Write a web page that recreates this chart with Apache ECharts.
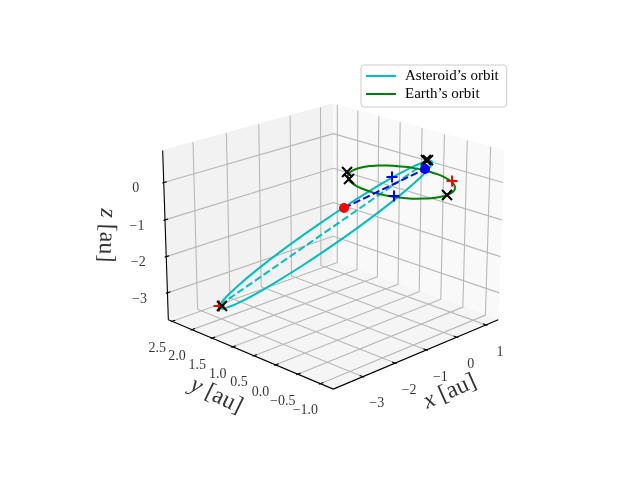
<!DOCTYPE html>
<html>
<head>
<meta charset="utf-8">
<style>html,body{margin:0;background:#fff}#chart{width:640px;height:480px}</style>
<script src="https://cdn.jsdelivr.net/npm/echarts@6/dist/echarts.min.js"></script>
</head>
<body>
<div id="chart"></div>
<script>
// ==============================================================
// data, all in au
// ==============================================================
var xTicks = [-3, -2, -1, 0, 1];
var yTicks = [-1, -0.5, 0, 0.5, 1, 1.5, 2, 2.5];
var zTicks = [-3, -2, -1, 0];
var xLim = [-3.88, 1.43];
var yLim = [-1.28, 2.6];
var zLim = [-3.75, 0.85];

var asteroidName = "Asteroid\u2019s orbit";
var earthName = "Earth\u2019s orbit";

var asteroidOrbit = [
    [0.236, -0.515, 0.597], [0.164, -0.568, 0.610], [0.084, -0.615, 0.614], [-0.002, -0.655, 0.608],
    [-0.095, -0.688, 0.594], [-0.194, -0.716, 0.570], [-0.326, -0.740, 0.528], [-0.465, -0.754, 0.472],
    [-0.763, -0.750, 0.321], [-1.079, -0.705, 0.123], [-1.404, -0.620, -0.117], [-1.890, -0.423, -0.542],
    [-2.349, -0.153, -1.019], [-2.750, 0.172, -1.521], [-3.070, 0.535, -2.016], [-3.227, 0.786, -2.328],
    [-3.333, 1.036, -2.613], [-3.383, 1.279, -2.864], [-3.386, 1.395, -2.973], [-3.374, 1.506, -3.071],
    [-3.355, 1.591, -3.141], [-3.325, 1.672, -3.202], [-3.287, 1.749, -3.254], [-3.239, 1.821, -3.297],
    [-3.182, 1.887, -3.330], [-3.116, 1.948, -3.354], [-3.042, 2.002, -3.368], [-2.959, 2.050, -3.372],
    [-2.868, 2.092, -3.366], [-2.770, 2.127, -3.350], [-2.638, 2.160, -3.316], [-2.495, 2.182, -3.265],
    [-2.185, 2.190, -3.119], [-1.849, 2.150, -2.916], [-1.499, 2.063, -2.662], [-0.973, 1.851, -2.205],
    [-0.482, 1.556, -1.687], [-0.063, 1.200, -1.148], [0.255, 0.812, -0.630], [0.399, 0.549, -0.314],
    [0.484, 0.293, -0.033], [0.510, 0.052, 0.203], [0.500, -0.061, 0.303], [0.475, -0.167, 0.390],
    [0.445, -0.247, 0.450], [0.405, -0.322, 0.500], [0.357, -0.392, 0.542], [0.301, -0.457, 0.574],
    [0.236, -0.515, 0.597]
];
var apsisLine = [[-3.000, 2.025, -3.369], [0.407, -0.317, 0.497]];
var earthOrbit = [
    [0.985, 0, -0.06], [0.970, 0.171, -0.06], [0.926, 0.337, -0.06], [0.853, 0.493, -0.06],
    [0.755, 0.633, -0.06], [0.633, 0.755, -0.06], [0.493, 0.853, -0.06], [0.337, 0.926, -0.06],
    [0.171, 0.970, -0.06], [0, 0.985, -0.06], [-0.171, 0.970, -0.06], [-0.337, 0.926, -0.06],
    [-0.493, 0.853, -0.06], [-0.633, 0.755, -0.06], [-0.755, 0.633, -0.06], [-0.853, 0.493, -0.06],
    [-0.926, 0.337, -0.06], [-0.970, 0.171, -0.06], [-0.985, 0, -0.06], [-0.970, -0.171, -0.06],
    [-0.926, -0.337, -0.06], [-0.853, -0.493, -0.06], [-0.755, -0.633, -0.06], [-0.633, -0.755, -0.06],
    [-0.493, -0.853, -0.06], [-0.337, -0.926, -0.06], [-0.171, -0.970, -0.06], [0, -0.985, -0.06],
    [0.171, -0.970, -0.06], [0.337, -0.926, -0.06], [0.493, -0.853, -0.06], [0.633, -0.755, -0.06],
    [0.755, -0.633, -0.06], [0.853, -0.493, -0.06], [0.926, -0.337, -0.06], [0.970, -0.171, -0.06],
    [0.985, 0, -0.06]
];
var blackCrosses = [[-3.123, 1.873, -3.288], [0.445, -0.247, 0.490], [0.407, -0.317, 0.520],
    [-0.354, 0.976, -0.06], [-0.683, 0.693, -0.06], [0.031, -0.983, -0.06]];
var redPlus = [[-3.037, 2.020, -3.382], [0.839, -0.567, -0.06]];
var bluePlus = [[0.478, 0.525, -0.252], [-0.933, -0.486, -0.009]];
var redDot = [-0.150, 1.191, -1.183];
var blueDot = [1.058, 0.173, -0.06];

// ==============================================================
// view of the 3d box, echarts core has no 3d axes
// ==============================================================
var elev = 20 * Math.PI / 180, azim = -135 * Math.PI / 180, dist = 10;
var box = [1.307, 1.307, 0.992];
var S = 1815, CX = 333.3, CY = 236.5;
var nv = [Math.cos(elev) * Math.cos(azim), Math.cos(elev) * Math.sin(azim), Math.sin(elev)];
var eye = [box[0] / 2 + dist * nv[0], box[1] / 2 + dist * nv[1], box[2] / 2 + dist * nv[2]];
function cross(a, b) { return [a[1]*b[2]-a[2]*b[1], a[2]*b[0]-a[0]*b[2], a[0]*b[1]-a[1]*b[0]]; }
function dot(a, b) { return a[0]*b[0]+a[1]*b[1]+a[2]*b[2]; }
function unit(a) { var l = Math.sqrt(dot(a, a)); return [a[0]/l, a[1]/l, a[2]/l]; }
var uv = unit(cross([0, 0, 1], nv));
var vv = cross(nv, uv);
function proj(p) {
    var d = [
        (p[0]-xLim[0]) / (xLim[1]-xLim[0]) * box[0] - eye[0],
        (p[1]-yLim[0]) / (yLim[1]-yLim[0]) * box[1] - eye[1],
        (p[2]-zLim[0]) / (zLim[1]-zLim[0]) * box[2] - eye[2]
    ];
    var w = -dot(d, nv);
    return [dot(d, uv) / w, dot(d, vv) / w];
}
function line(pts) { return pts.map(proj); }

// ==============================================================
// series
// ==============================================================
var series = [];
var order = 1;
function add3d(pts, color, width, name, type, smooth) {
    series.push({ type: 'line', name: name, data: line(pts), showSymbol: false, symbol: 'none', silent: true, z: order++, smooth: smooth || false,
        lineStyle: { color: color, width: width, type: type || 'solid', cap: 'butt' }, itemStyle: { color: color } });
}
function pane(pts, color) {
    series.push({ type: 'custom', silent: true, z: order++, data: [0], coordinateSystem: 'cartesian2d',
        renderItem: function (params, api) {
            return { type: 'polygon', shape: { points: line(pts).map(function (p) { return api.coord(p); }) }, style: { fill: color, stroke: color, lineWidth: 1 } };
        } });
}
function marks(pts, path, color, size, filled) {
    series.push({ type: 'scatter', data: line(pts), symbol: path, symbolSize: size, silent: true, z: order++,
        itemStyle: filled ? { color: color, opacity: 1 } : { color: 'rgba(0,0,0,0)', borderColor: color, borderWidth: 2, opacity: 1 } });
}
function labels(items, off, rot, size) {
    series.push({ type: 'scatter', symbolSize: 0, silent: true, z: order++,
        data: items.map(function (it) { return { value: proj(it.p), label: { formatter: it.t } }; }),
        label: { show: true, position: 'inside', offset: off, rotate: rot || 0, color: '#000', fontFamily: 'Liberation Serif', fontSize: size,
            rich: { i: { fontStyle: 'italic', fontFamily: 'Liberation Serif', fontSize: size }, r: { fontFamily: 'Liberation Serif', fontSize: size } } } });
}
function fmt(v, d) { return (v < 0 ? '\u2212' : '') + Math.abs(v).toFixed(d); }

var x0 = xLim[0], x1 = xLim[1], y0 = yLim[0], y1 = yLim[1], z0 = zLim[0], z1 = zLim[1];
pane([[x0,y1,z0],[x1,y1,z0],[x1,y1,z1],[x0,y1,z1]], '#f2f2f2');
pane([[x1,y0,z0],[x1,y1,z0],[x1,y1,z1],[x1,y0,z1]], '#f9f9f9');
pane([[x0,y0,z0],[x1,y0,z0],[x1,y1,z0],[x0,y1,z0]], '#f5f5f5');

var gridColor = '#b8b8b8';
xTicks.forEach(function (v) { add3d([[v,y0,z0],[v,y1,z0],[v,y1,z1]], gridColor, 1.1); });
yTicks.forEach(function (v) { add3d([[x0,v,z0],[x1,v,z0],[x1,v,z1]], gridColor, 1.1); });
zTicks.forEach(function (v) { add3d([[x0,y1,v],[x1,y1,v],[x1,y0,v]], gridColor, 1.1); });

add3d([[x0,y0,z0],[x1,y0,z0]], '#000', 1.1);
add3d([[x0,y1,z0],[x0,y0,z0]], '#000', 1.1);
add3d([[x0,y1,z0],[x0,y1,z1]], '#000', 1.1);
var dy = (y1-y0)/12, dx = (x1-x0)/12;
xTicks.forEach(function (v) { add3d([[v,y0+0.2*dy,z0],[v,y0-0.1*dy,z0]], '#000', 1.1); });
yTicks.forEach(function (v) { add3d([[x0+0.2*dx,v,z0],[x0-0.1*dx,v,z0]], '#000', 1.1); });
zTicks.forEach(function (v) { add3d([[x0+0.2*dx,y1,v],[x0-0.1*dx,y1,v]], '#000', 1.1); });

add3d(asteroidOrbit, '#00bfbf', 2, asteroidName, 'solid', 0.3);
add3d(apsisLine, '#00bfbf', 2, 'apsis line', [7.4, 3.2]);
add3d(earthOrbit, '#008000', 2, earthName, 'solid', 0.5);
add3d([redDot, blueDot], '#0000ff', 2, 'link', [7.4, 3.2]);

marks(redPlus, 'path://M0 5H10M5 0V10', '#ff0000', 11);
marks(bluePlus, 'path://M0 5H10M5 0V10', '#0000ff', 11);
marks(blackCrosses, 'path://M0 0L10 10M0 10L10 0', '#000', 10);
marks([redDot], 'circle', '#ff0000', 10, true);
marks([blueDot], 'circle', '#0000ff', 10, true);

labels(xTicks.map(function (v) { return { p: [v, y0, z0], t: fmt(v, 0) }; }), [14, 27], 0, 14);
labels(yTicks.map(function (v) { return { p: [x0, v, z0], t: fmt(v, 1) }; }), [-15, 27], 0, 14);
labels(zTicks.map(function (v) { return { p: [x0, y1, v], t: fmt(v, 0) }; }), [-28, 6], 0, 14);
// label offsets turn with the label, so these are in the rotated frame
labels([{ p: [(x0+x1)/2, y0, z0], t: '{i|x}{r| [au]}' }], [12, 48], 24, 24);
labels([{ p: [x0, (y0+y1)/2, z0], t: '{i|y}{r| [au]}' }], [-9, 52], -26, 24);
labels([{ p: [x0, y1, (z0+z1)/2], t: '{i|z}{r| [au]}' }], [1, 59], -92, 24);

var chart = echarts.init(document.getElementById('chart'));
chart.setOption({
    animation: false,
    grid: { left: CX - 0.18 * S, top: CY - 0.12 * S, width: 0.34 * S, height: 0.24 * S },
    xAxis: { type: 'value', min: -0.18, max: 0.16, show: false },
    yAxis: { type: 'value', min: -0.12, max: 0.12, show: false },
    legend: { data: [{ name: asteroidName, icon: 'rect' }, { name: earthName, icon: 'rect' }], orient: 'vertical', left: 361, top: 65,
        itemWidth: 30, itemHeight: 2, itemGap: 0, padding: [2, 8, 4, 5], borderColor: '#ccc', borderWidth: 1, borderRadius: 3,
        backgroundColor: 'rgba(255,255,255,0.8)',
        textStyle: { fontFamily: 'Liberation Serif', fontSize: 15, lineHeight: 18, color: '#000', padding: [0, 0, 0, 4] } },
    series: series
});
</script>
</body>
</html>
